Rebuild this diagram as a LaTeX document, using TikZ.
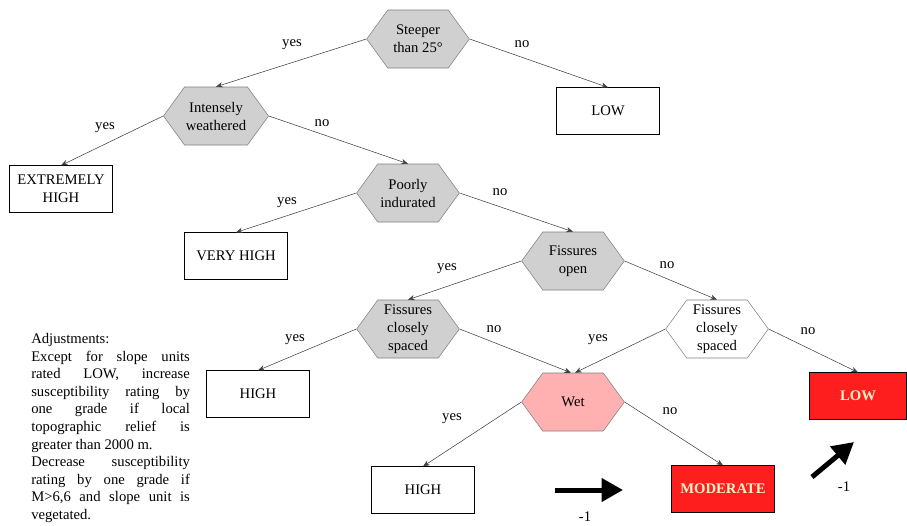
\documentclass[tikz,border=0pt]{standalone}
\usepackage{fontspec}
\setmainfont{Liberation Serif}
\usetikzlibrary{shapes.symbols,arrows.meta}
\definecolor{hexgrey}{HTML}{D0D0D0}
\definecolor{hexline}{HTML}{808080}
\definecolor{wetpink}{HTML}{FFB0B0}
\definecolor{riskred}{HTML}{FF1E1E}
\definecolor{cream}{HTML}{FFF2C8}
\newcommand{\jline}[1]{\makebox[119pt][s]{#1}\\}

\begin{document}
\begin{tikzpicture}[x=0.75pt,y=-0.75pt,font=\fontsize{11}{13.5}\selectfont, test/.style={signal,signal to=east and west,signal pointer angle=108,draw=hexline,fill=hexgrey,minimum width=77pt,minimum height=43.5pt,inner sep=1pt,align=center}, result/.style={draw,rectangle,minimum width=77pt,minimum height=35pt,align=center}, alarm/.style={result,fill=riskred,text=cream,font=\fontsize{11}{13.5}\selectfont\bfseries}, branch/.style={draw=black!75,-{Stealth[length=5pt,width=4pt]}}, shiftarrow/.style={line width=3.75pt,-{Triangle[length=16pt,width=17pt]}}]
\useasboundingbox (0,0) rectangle (907,525);

\node[test] (steep) at (418,39) {Steeper\\than 25°};
\node[result] (lowtop) at (608,111) {LOW};
\node[test] (weath) at (216,116) {Intensely\\weathered};
\node[result] (exthigh) at (61,189) {EXTREMELY\\HIGH};
\node[test] (poor) at (408,193) {Poorly\\indurated};
\node[result] (veryhigh) at (236,256) {VERY HIGH};
\node[test] (openf) at (573,261) {Fissures\\open};
\node[test] (closeA) at (408,329) {Fissures\\closely\\spaced};
\node[test,fill=white] (closeB) at (717,329) {Fissures\\closely\\spaced};
\node[result] (highA) at (258,394) {HIGH};
\node[test,fill=wetpink] (wet) at (573,402) {Wet};
\node[alarm,minimum width=72.5pt] (lowred) at (858,396) {LOW};
\node[result] (highB) at (423,490) {HIGH};
\node[alarm] (moderate) at (723,489) {MODERATE};

\draw[branch] (steep.west) -- (weath.north);
\draw[branch] (steep.east) -- (lowtop.north);
\draw[branch] (weath.west) -- (exthigh.north);
\draw[branch] (weath.east) -- (poor.north);
\draw[branch] (poor.west) -- (veryhigh.north);
\draw[branch] (poor.east) -- (openf.north);
\draw[branch] (openf.west) -- (closeA.north);
\draw[branch] (openf.east) -- (closeB.north);
\draw[branch] (closeA.west) -- (highA.north);
\draw[branch] (closeA.east) -- ([xshift=-1.5pt]wet.north);
\draw[branch] (closeB.west) -- ([xshift=1.5pt]wet.north);
\draw[branch] (closeB.east) -- (lowred.north);
\draw[branch] (wet.west) -- (highB.north);
\draw[branch] (wet.east) -- (moderate.north);

\node (yes1) at (292,45) {yes};
\node (no1) at (522,44) {no};
\node (yes2) at (105,128) {yes};
\node (no2) at (322,123) {no};
\node (yes3) at (287,203) {yes};
\node (no3) at (500,192) {no};
\node (yes4) at (447,269) {yes};
\node (no4) at (667,265) {no};
\node (yes5) at (295,340) {yes};
\node (no5) at (494,329) {no};
\node (yes6) at (598,340) {yes};
\node (no6) at (808,331) {no};
\node (yes7) at (452,419) {yes};
\node (no7) at (670,411) {no};

\coordinate (tailA) at (555,490);
\coordinate (tipA) at (623,490);
\coordinate (tailB) at (812,477);
\coordinate (tipB) at (854,442);
\draw[shiftarrow] (tailA) -- (tipA);
\draw[shiftarrow] (tailB) -- (tipB);
\node (minusA) at (585,517) {-1};
\node (minusB) at (844,487) {-1};

\node[anchor=north west,inner sep=0pt,align=left,font=\fontsize{11}{13.2}\selectfont] (adjust) at (31,333) {Adjustments:\\ \jline{Except for slope units} \jline{rated LOW, increase} \jline{susceptibility rating by} \jline{one grade if local} \jline{topographic relief is} greater than 2000 m.\\ \jline{Decrease susceptibility} \jline{rating by one grade if} \jline{M>6,6 and slope unit is} vegetated.};

\end{tikzpicture}
\end{document}
